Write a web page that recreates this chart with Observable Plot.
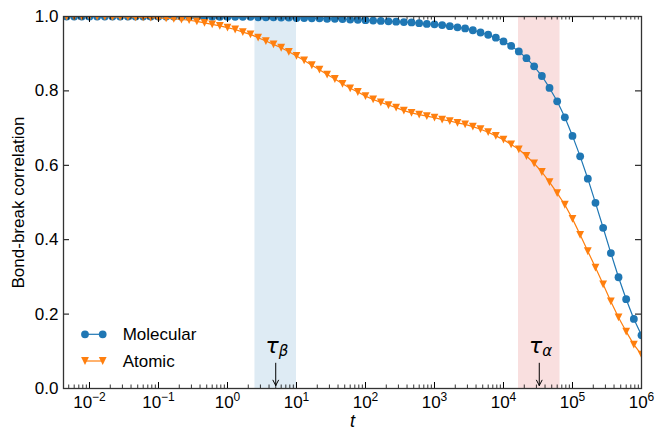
<!DOCTYPE html>
<html><head><meta charset="utf-8">
<script src="https://cdn.jsdelivr.net/npm/d3@7"></script>
<script src="https://cdn.jsdelivr.net/npm/@observablehq/plot@0.6"></script>
<style>body{margin:0;background:#fff}#chart{width:655px;height:432px}</style>
</head><body><div id="chart"></div>
<script>
// time grid (log10 t)
const logT = [-2.333,-2.222,-2.111,-2,-1.889,-1.778,-1.667,-1.556,-1.444,-1.333,-1.222,-1.111,-1,-0.889,-0.778,-0.667,-0.556,-0.444,-0.333,-0.222,-0.111,
  0,0.111,0.222,0.333,0.444,0.556,0.667,0.778,0.889,
  1,1.111,1.222,1.333,1.444,1.556,1.667,1.778,1.889,
  2,2.111,2.222,2.333,2.444,2.556,2.667,2.778,2.889,
  3,3.111,3.222,3.333,3.444,3.556,3.667,3.778,3.889,
  4,4.111,4.222,4.333,4.444,4.556,4.667,4.778,4.889,
  5,5.111,5.222,5.333,5.444,5.556,5.667,5.778,5.889,6];
const molecular = [1,1,1,1,1,1,1,1,1,1,1,1,1,1,1,
  0.999,0.999,0.999,0.999,0.999,0.999,0.999,0.999,0.999,0.999,
  0.998,0.998,0.998,0.997,0.997,0.996,0.996,0.995,0.995,0.994,0.994,0.993,0.992,0.991,0.990,0.989,0.988,0.987,0.986,0.985,0.984,0.982,0.980,0.979,0.977,0.974,0.971,0.968,0.963,0.957,0.951,0.943,0.933,0.921,0.906,0.888,0.866,0.840,0.808,0.772,0.729,0.679,0.624,0.564,0.499,0.432,0.364,0.299,0.240,0.187,0.143];
const atomic = [1,1,1,1,1,1,
  0.999,0.999,0.999,0.998,0.998,0.997,0.996,0.995,0.994,0.992,0.990,0.987,0.983,0.979,0.975,0.970,0.965,0.958,0.952,0.943,0.934,0.925,0.916,0.905,0.894,0.882,0.869,0.857,0.844,0.832,0.819,0.807,0.797,0.786,0.777,0.769,0.762,0.755,0.747,0.741,0.736,0.732,0.728,0.723,0.719,0.714,0.710,0.704,0.697,0.689,0.679,0.669,0.656,0.643,0.625,0.605,0.582,0.555,0.525,0.494,0.456,0.413,0.369,0.325,0.280,0.234,0.191,0.153,0.118,0.091];
const seriesNames = ["Molecular", "Atomic"];
const taus = [{sub: "β", t: 5}, {sub: "α", t: 33000}];
const xMajor = [1e-2,1e-1,1e0,1e1,1e2,1e3,1e4,1e5,1e6];
const xExp = ["−2","−1","0","1","2","3","4","5","6"];
const yTicks = [0,0.2,0.4,0.6,0.8,1.0];

const xDomain = [0.0042, 1e6];
const rows = logT.map((e, i) => ({t: 10 ** e, molecular: molecular[i], atomic: atomic[i]}));
const xMinor = [];
for (let k = -3; k <= 5; k++) for (let m = 2; m <= 9; m++) {
  const v = m * 10 ** k;
  if (v >= xDomain[0] && v <= xDomain[1]) xMinor.push(v);
}

const W = 655, H = 432, mL = 63, mR = 14, mT = 16, mB = 44;
const iw = W - mL - mR, ih = H - mT - mB;
const blue = "#1f77b4", orange = "#ff7f0e";
const font = "Liberation Sans, Arial, Helvetica, sans-serif";
const triDown = {draw(ctx, size) { const s = Math.sqrt(size / Math.PI); ctx.moveTo(0, s); ctx.lineTo(-s, -s); ctx.lineTo(s, -s); ctx.closePath(); }};
const R = 3.9;

const cv = document.createElement("canvas").getContext("2d");
function tw(txt, px) { cv.font = `${px}px "Liberation Sans"`; return cv.measureText(txt).width; }
const baseSize = 17, expSize = 12;

const labelMarks = [];
xMajor.forEach((v, i) => {
  const wb = tw("10", baseSize), we = tw(xExp[i], expSize);
  const off = (wb + we) / 2 - we;
  labelMarks.push(Plot.text([v], {x: d => d, text: () => "10", frameAnchor: "bottom", textAnchor: "end", lineAnchor: "bottom", dx: off, dy: 19, fontSize: baseSize, fontFamily: font, fill: "black"}));
  labelMarks.push(Plot.text([v], {x: d => d, text: () => xExp[i], frameAnchor: "bottom", textAnchor: "start", lineAnchor: "bottom", dx: off, dy: 12, fontSize: expSize, fontFamily: font, fill: "black"}));
});

const plot = Plot.plot({
  width: W, height: H, marginLeft: mL, marginRight: mR, marginTop: mT, marginBottom: mB,
  style: {fontFamily: font, background: "white"},
  x: {type: "log", domain: xDomain, axis: null},
  y: {domain: [0, 1], axis: null},
  marks: [
    Plot.rect(taus, {x1: d => d.t / 2, x2: d => d.t * 2, fill: (d, i) => i === 0 ? blue : "#d62728", fillOpacity: 0.15}),
    Plot.line(rows, {x: "t", y: "molecular", stroke: blue, strokeWidth: 1.2, clip: "frame"}),
    Plot.dot(rows, {x: "t", y: "molecular", r: R, fill: blue, clip: "frame"}),
    Plot.line(rows, {x: "t", y: "atomic", stroke: orange, strokeWidth: 1.2, clip: "frame"}),
    Plot.dot(rows, {x: "t", y: "atomic", r: R, symbol: triDown, fill: orange, clip: "frame"}),
    // tau annotations
    Plot.text(taus, {x: "t", text: () => "τ", frameAnchor: "bottom", textAnchor: "end", lineAnchor: "bottom", dx: 3, dy: -36, fontSize: 22, fontFamily: "DejaVu Sans", fontStyle: "italic", fill: "black"}),
    Plot.text(taus, {x: "t", text: "sub", frameAnchor: "bottom", textAnchor: "start", lineAnchor: "bottom", dx: 3, dy: -33, fontSize: 15, fontFamily: "DejaVu Sans", fontStyle: "italic", fill: "black"}),
    Plot.arrow(taus, {x: "t", y1: 0.068, y2: 0.008, stroke: "black", strokeWidth: 1, headLength: 9, headAngle: 55}),
    // ticks (inward, all sides)
    Plot.tickX(xMajor, {x: d => d, insetTop: ih - 6, stroke: "black", strokeWidth: 1}),
    Plot.tickX(xMajor, {x: d => d, insetBottom: ih - 6, stroke: "black", strokeWidth: 1}),
    Plot.tickX(xMinor, {x: d => d, insetTop: ih - 3.5, stroke: "black", strokeWidth: 0.8}),
    Plot.tickX(xMinor, {x: d => d, insetBottom: ih - 3.5, stroke: "black", strokeWidth: 0.8}),
    Plot.tickY(yTicks, {y: d => d, insetRight: iw - 6, stroke: "black", strokeWidth: 1}),
    Plot.tickY(yTicks, {y: d => d, insetLeft: iw - 6, stroke: "black", strokeWidth: 1}),
    Plot.frame({stroke: "#333", strokeWidth: 1.3}),
    // tick labels
    Plot.text(yTicks, {y: d => d, text: d => d.toFixed(1), frameAnchor: "left", textAnchor: "end", lineAnchor: "middle", dx: -5, fontSize: 17, fontFamily: font, fill: "black"}),
    ...labelMarks,
    // axis labels
    Plot.text(["t"], {text: d => d, frameAnchor: "bottom", lineAnchor: "bottom", dy: 38, fontSize: 18, fontStyle: "italic", fontFamily: font, fill: "black"}),
    Plot.text(["Bond-break correlation"], {text: d => d, frameAnchor: "left", rotate: -90, textAnchor: "middle", lineAnchor: "middle", dx: -45, fontSize: 17, fontFamily: font, fill: "black"})
  ]
});

// legend (inside, lower-left)
const svg = d3.select(plot);
const leg = svg.append("g").attr("text-anchor", "start");
const legRows = [{name: seriesNames[0], color: blue, y: 334.3, sym: d3.symbolCircle}, {name: seriesNames[1], color: orange, y: 361, sym: triDown}];
legRows.forEach(r => {
  leg.append("line").attr("x1", 85).attr("x2", 102.7).attr("y1", r.y).attr("y2", r.y).attr("stroke", r.color).attr("stroke-width", 1.2);
  [85, 102.7].forEach(x => leg.append("path").attr("d", d3.symbol(r.sym, Math.PI * R * R)()).attr("transform", `translate(${x},${r.y})`).attr("fill", r.color));
  leg.append("text").attr("x", 122.7).attr("y", r.y).attr("dy", "0.35em").attr("text-anchor", "start").attr("font-size", 17).attr("font-family", font).attr("fill", "black").text(r.name);
});
document.getElementById("chart").appendChild(plot);
</script></body></html>
